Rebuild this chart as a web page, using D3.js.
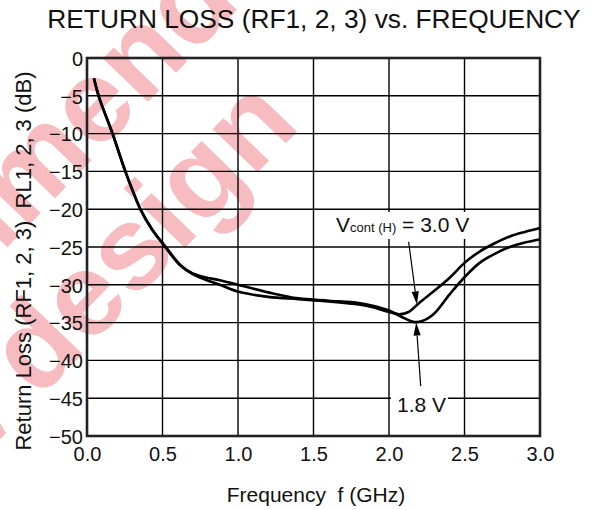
<!DOCTYPE html>
<html><head><meta charset="utf-8">
<script src="https://cdn.jsdelivr.net/npm/d3@7"></script>
<style>
html,body{margin:0;padding:0;background:#fff;}
svg{display:block;}
text{font-family:"Liberation Sans",Arial,Helvetica,sans-serif;}
</style></head>
<body>
<svg id="chart" width="597" height="510"></svg>
<script>
// ---- data ----
const title = "RETURN LOSS (RF1, 2, 3) vs. FREQUENCY";
const xTicks = [0.0, 0.5, 1.0, 1.5, 2.0, 2.5, 3.0];
const yTicks = [0, -5, -10, -15, -20, -25, -30, -35, -40, -45, -50];
const freq18 = [0.046,0.08,0.17,0.255,0.355,0.43,0.51,0.62,0.70,0.78,0.88,1.0,1.2,1.4,1.6,1.8,1.9,2.0,2.1,2.16,2.22,2.3,2.4,2.5,2.6,2.7,2.8,2.9,3.0];
const rl18   = [-2.7,-5.2,-10.0,-15.0,-20.0,-22.6,-24.7,-27.4,-28.5,-29.0,-29.4,-30.0,-31.0,-31.8,-32.1,-32.4,-32.8,-33.4,-34.4,-34.9,-34.8,-33.8,-31.3,-29.0,-27.1,-25.9,-25.0,-24.4,-24.0];
const freq30 = [0.046,0.08,0.17,0.255,0.355,0.43,0.51,0.62,0.70,0.78,0.88,1.0,1.2,1.4,1.6,1.8,1.9,2.0,2.07,2.13,2.2,2.3,2.4,2.5,2.6,2.7,2.8,2.9,3.0];
const rl30   = [-2.7,-5.2,-10.1,-15.1,-20.1,-22.7,-24.8,-27.5,-28.6,-29.3,-30.0,-30.9,-31.6,-31.9,-32.2,-32.6,-33.0,-33.6,-33.9,-33.6,-32.4,-30.8,-29.1,-27.1,-25.6,-24.5,-23.6,-23.0,-22.5];
const annot30 = {f: 2.185, v: -32.6, tailF: 2.13, tailV: -24.3};
const annot18 = {f: 2.18, v: -35.0, tailF: 2.21, tailV: -43.4};

// ---- layout ----
const svg = d3.select("#chart");
const m = {left: 87, right: 540, top: 58, bottom: 436};
const x = d3.scaleLinear().domain([0, 3]).range([m.left, m.right]);
const y = d3.scaleLinear().domain([0, -50]).range([m.top, m.bottom]);

// ---- watermark ----
const wm = svg.append("g").attr("transform", "translate(38,400) rotate(-46)")
  .style("font-family", "'Liberation Sans',Arial,sans-serif")
  .style("font-weight", "bold").style("font-size", "118px").attr("fill", "#f6bcc0");
wm.append("text").attr("x", 0).attr("y", 0).text("design");
wm.append("text").attr("x", -30).attr("y", 0).attr("text-anchor", "end").text("for new");
wm.append("text").attr("x", 112).attr("y", -128).text("mended");
wm.append("text").attr("x", 112).attr("y", -128).attr("text-anchor", "end").text("not recom");

// ---- grid ----
const grid = svg.append("g");
grid.selectAll("line.v").data(xTicks.slice(1, -1)).join("line")
  .attr("x1", d => x(d)).attr("x2", d => x(d)).attr("y1", m.top).attr("y2", m.bottom)
  .attr("stroke", "#000").attr("stroke-width", 1.4);
grid.selectAll("line.h").data(yTicks.slice(1, -1)).join("line")
  .attr("y1", d => y(d)).attr("y2", d => y(d)).attr("x1", m.left).attr("x2", m.right)
  .attr("stroke", "#000").attr("stroke-width", 1.4);

// ---- axes (labels via d3 axes) ----
const xAxis = svg.append("g").attr("transform", `translate(0,${m.bottom})`)
  .call(d3.axisBottom(x).tickValues(xTicks).tickFormat(d3.format(".1f")).tickSize(0).tickPadding(11));
const yAxis = svg.append("g").attr("transform", `translate(${m.left},0)`)
  .call(d3.axisLeft(y).tickValues(yTicks).tickFormat(d => d === 0 ? "0" : "\u2212" + Math.abs(d)).tickSize(0).tickPadding(4));
[xAxis, yAxis].forEach(a => {
  a.select(".domain").remove();
  a.selectAll("text").attr("fill", "#111").style("font-size", "20px")
    .style("font-family", "'Liberation Sans',Arial,sans-serif");
});
yAxis.selectAll("text").attr("dy", "0.36em");

// frame
svg.append("rect").attr("x", m.left).attr("y", m.top)
  .attr("width", m.right - m.left).attr("height", m.bottom - m.top)
  .attr("fill", "none").attr("stroke", "#222").attr("stroke-width", 2.6);

// ---- curves ----
const line = d3.line().x(d => x(d[0])).y(d => y(d[1])).curve(d3.curveCatmullRom.alpha(0.5));
[[freq18, rl18], [freq30, rl30]].forEach(([f, v]) => {
  svg.append("path").datum(f.map((d, i) => [d, v[i]])).attr("d", line)
    .attr("fill", "none").attr("stroke", "#000").attr("stroke-width", 2.6)
    .attr("stroke-linejoin", "round");
});

// ---- annotations ----
function arrow(a) {
  const x1 = x(a.tailF), y1 = y(a.tailV), x2 = x(a.f), y2 = y(a.v);
  const ang = Math.atan2(y2 - y1, x2 - x1), L = 13, W = 3.6;
  const bx = x2 - L * Math.cos(ang), by = y2 - L * Math.sin(ang);
  svg.append("line").attr("x1", x1).attr("y1", y1).attr("x2", bx).attr("y2", by)
    .attr("stroke", "#000").attr("stroke-width", 1.2);
  const px = -Math.sin(ang) * W, py = Math.cos(ang) * W;
  svg.append("path").attr("d", `M${x2},${y2}L${bx + px},${by + py}L${bx - px},${by - py}Z`).attr("fill", "#000");
}
// label boxes
svg.append("rect").attr("x", 332).attr("y", 212).attr("width", 142).attr("height", 27).attr("fill", "#fff");
const t1 = svg.append("text").attr("x", 336).attr("y", 232).attr("fill", "#111").style("font-size", "21px");
t1.append("tspan").text("V");
t1.append("tspan").style("font-size", "13px").text("cont (H)");
t1.append("tspan").text(" = 3.0 V");
svg.append("rect").attr("x", 391).attr("y", 391).attr("width", 57).attr("height", 25).attr("fill", "#fff");
svg.append("text").attr("x", 397).attr("y", 412).attr("fill", "#111").style("font-size", "21px").text("1.8 V");
arrow(annot30);
arrow(annot18);

// ---- titles ----
svg.append("text").attr("x", 314).attr("y", 28).attr("text-anchor", "middle")
  .attr("fill", "#111").style("font-size", "26.3px").text(title);
svg.append("text").attr("x", 316).attr("y", 502).attr("text-anchor", "middle")
  .attr("fill", "#111").style("font-size", "21px").attr("xml:space", "preserve").text("Frequency  f (GHz)");
svg.append("text").attr("transform", "translate(31,261) rotate(-90)").attr("text-anchor", "middle")
  .attr("fill", "#111").style("font-size", "22px").attr("xml:space", "preserve")
  .text("Return Loss (RF1, 2, 3)  RL1, 2, 3 (dB)");
</script>
</body></html>
